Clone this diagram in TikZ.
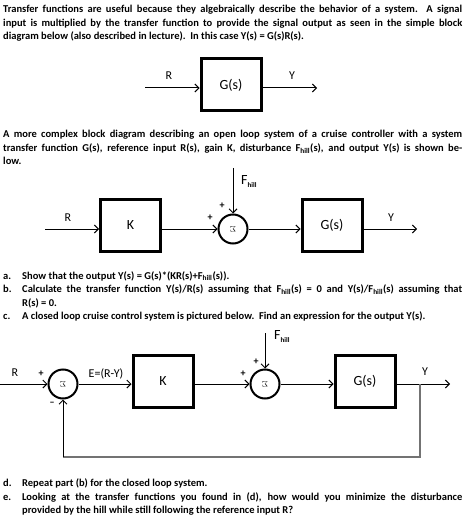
\documentclass[tikz,border=0pt]{standalone}
\usepackage{fontspec}
\setmainfont{Carlito}
\usepackage{tikz}
\usetikzlibrary{arrows.meta}

\newcommand{\bodyfont}{\fontsize{10.5}{13.5}\selectfont\bfseries}
\newcommand{\jline}[1]{\makebox[459pt][s]{#1}}
\newcommand{\jitem}[1]{\makebox[440pt][s]{#1}}
\newcommand{\hillsub}{\textsubscript{hill}}
\newcommand{\Fhilllbl}{F\raisebox{-3pt}{\fontsize{7}{7}\selectfont\bfseries hill}}

\begin{document}
\begin{tikzpicture}[x=1pt, y=-1pt,
    txt/.style={anchor=base west, inner sep=0pt, font=\bodyfont},
    block/.style={draw, line width=3pt, minimum width=60pt, minimum height=52pt,
                  inner sep=0pt, font=\fontsize{14}{14}\selectfont},
    sumnode/.style={draw, circle, line width=2pt, minimum size=29pt, inner sep=0pt},
    sig/.style={line width=1pt, -{Straight Barb[length=4pt, width=8pt]}},
    fb/.style={line width=1.3pt, draw=black!55},
    lbl/.style={inner sep=0pt, font=\fontsize{12}{12}\selectfont},
    sgn/.style={inner sep=0pt, font=\fontsize{10}{10}\selectfont\bfseries}
 ]
\useasboundingbox (0,0) rectangle (467,518);

% opening text
\node[txt] (p1a) at (3,13) {\jline{Transfer functions are useful because they algebraically describe the behavior of a system.\ \ A signal}};
\node[txt] (p1b) at (3,26.5) {\jline{input is multiplied by the transfer function to provide the signal output as seen in the simple block}};
\node[txt] (p1c) at (3,40) {diagram below (also described in lecture).\ \ In this case Y(s) = G(s)R(s).};

% simple block diagram
\coordinate (in1) at (145,88);
\coordinate (out1) at (317,88);
\node[block] (g1) at (231,85) {G(s)};
\draw[sig] (in1) -- (in1 -| g1.west);
\draw[sig] (out1 -| g1.east) -- (out1);
\node[lbl] (r1) at (169,76) {R};
\node[lbl] (y1) at (292,76) {Y};

\node[txt] (p2a) at (3,138) {\jline{A more complex block diagram describing an open loop system of a cruise controller with a system}};
\node[txt] (p2b) at (3,151.5) {\jline{transfer function G(s), reference input R(s), gain K, disturbance F\hillsub(s), and output Y(s) is shown be-}};
\node[txt] (p2c) at (3,165) {low.};

% open loop
\coordinate (in2) at (45,229);
\coordinate (out2) at (417,229);
\coordinate (f2) at (233,168);
\node[block] (k2) at (130.5,225.5) {K};
\node[sumnode] (s2) at (233,229) {};
\node[rotate=180, inner sep=0pt, font=\fontsize{8}{8}\selectfont] (sig2) at (s2) {$\Sigma$};
\node[block] (g2) at (332,225.5) {G(s)};
\draw[sig] (in2) -- (in2 -| k2.west);
\draw[sig] (in2 -| k2.east) -- (s2);
\draw[sig] (f2) -- (s2);
\draw[sig] (s2) -- (s2 -| g2.west);
\draw[sig] (out2 -| g2.east) -- (out2);
\node[lbl] (r2) at (68,218) {R};
\node[lbl] (y2) at (391,218) {Y};
\node[lbl, anchor=west, font=\fontsize{14}{14}\selectfont] (fh2) at (241,182) {\Fhilllbl};
\node[sgn] (pl2a) at (222,206) {+};
\node[sgn] (pl2b) at (210,218) {+};

% questions a to c
\node[txt] (qa) at (3,279) {a.};
\node[txt] (qat) at (22,279) {Show that the output Y(s) = G(s)*(KR(s)+F\hillsub(s)).};
\node[txt] (qb) at (3,292.5) {b.};
\node[txt] (qbt) at (22,292.5) {\jitem{Calculate the transfer function Y(s)/R(s) assuming that F\hillsub(s) = 0 and Y(s)/F\hillsub(s) assuming that}};
\node[txt] (qbu) at (22,306) {R(s) = 0.};
\node[txt] (qc) at (3,319.5) {c.};
\node[txt] (qct) at (22,319.5) {A closed loop cruise control system is pictured below.\ \ Find an expression for the output Y(s).};

% closed loop
\coordinate (in3) at (0,384);
\coordinate (out3) at (450,384);
\coordinate (f3) at (265,333);
\node[sumnode] (s3a) at (63,384) {};
\node[rotate=180, inner sep=0pt, font=\fontsize{8}{8}\selectfont] (sig3a) at (s3a) {$\Sigma$};
\node[block] (k3) at (163,381.5) {K};
\node[sumnode] (s3b) at (265,384) {};
\node[rotate=180, inner sep=0pt, font=\fontsize{8}{8}\selectfont] (sig3b) at (s3b) {$\Sigma$};
\node[block] (g3) at (365,381.5) {G(s)};
\coordinate (br3) at (420,384);
\coordinate (bot3) at (420,457);
\draw[sig] (in3) -- (s3a);
\draw[sig] (s3a) -- (s3a -| k3.west);
\draw[sig] (s3a -| k3.east) -- (s3b);
\draw[sig] (f3) -- (s3b);
\draw[sig] (s3b) -- (s3b -| g3.west);
\draw[sig] (out3 -| g3.east) -- (out3);
\draw[fb] (br3) -- (bot3) -- (bot3 -| s3a);
\draw[sig, draw=black] (bot3 -| s3a) -- (s3a);
\node[lbl] (r3) at (15,373) {R};
\node[lbl] (y3) at (425,372) {Y};
\node[lbl] (e3) at (106,374) {E=(R-Y)};
\node[lbl, anchor=west, font=\fontsize{14}{14}\selectfont] (fh3) at (274,337) {\Fhilllbl};
\node[sgn] (pl3a) at (41,374) {+};
\node[sgn] (mi3a) at (52,404) {--};
\node[sgn] (pl3b) at (256,362) {+};
\node[sgn] (pl3c) at (243,374) {+};

% questions d and e
\node[txt] (qd) at (3,486.5) {d.};
\node[txt] (qdt) at (22,486.5) {Repeat part (b) for the closed loop system.};
\node[txt] (qe) at (3,500) {e.};
\node[txt] (qet) at (22,500) {\jitem{Looking at the transfer functions you found in (d), how would you minimize the disturbance}};
\node[txt] (qeu) at (22,513.5) {provided by the hill while still following the reference input R?};
\end{tikzpicture}
\end{document}
